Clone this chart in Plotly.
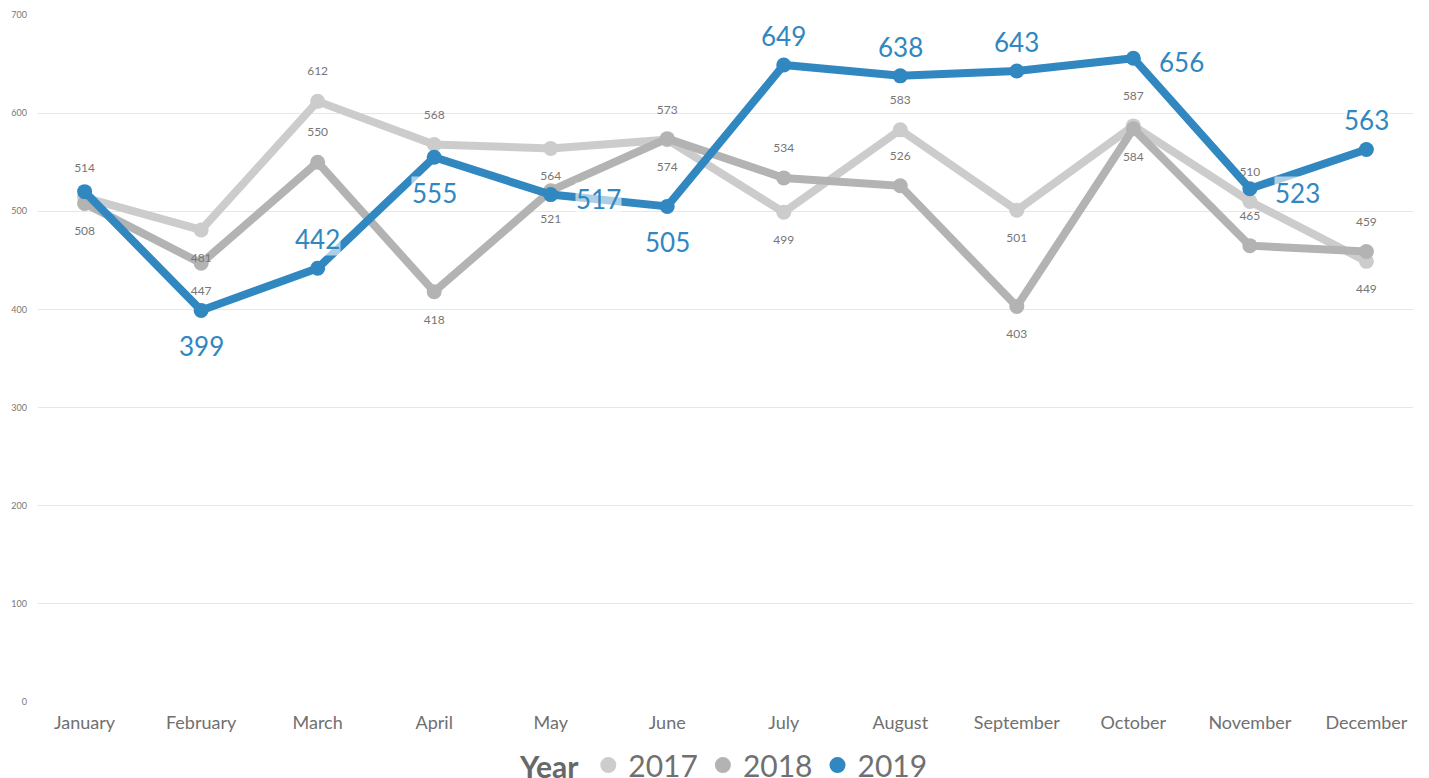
import plotly.graph_objects as go

months = ["January", "February", "March", "April", "May", "June",
          "July", "August", "September", "October", "November", "December"]
y2017 = [514, 481, 612, 568, 564, 573, 499, 583, 501, 587, 510, 449]
y2018 = [508, 447, 550, 418, 521, 574, 534, 526, 403, 584, 465, 459]
y2019 = [520, 399, 442, 555, 517, 505, 649, 638, 643, 656, 523, 563]

# label placement (relative to point)
pos2017 = ["top", "bottom", "top", "top", "bottom", "top", "bottom", "top", "bottom", "top", "top", "bottom"]
pos2018 = ["bottom", "bottom", "top", "bottom", "bottom", "bottom", "top", "top", "bottom", "bottom", "top", "top"]
pos2019 = ["none", "below", "above", "below", "right", "below", "above", "above", "above", "right", "right", "above"]

c2017 = "#cccccc"
c2018 = "#b3b3b3"
c2019 = "#3187bf"
txt_gray = "#767676"
FONT = "Lato"

fig = go.Figure()

gray = [("2017", y2017, c2017, pos2017), ("2018", y2018, c2018, pos2018)]
for name, ys, col, pos in gray:
    fig.add_trace(go.Scatter(
        x=months, y=ys, mode="lines+markers", name=name,
        line=dict(color=col, width=8), marker=dict(color=col, size=15),
        showlegend=False, legendgroup=name,
    ))
for name, ys, col, pos in gray:
    fig.add_trace(go.Scatter(
        x=months, y=ys, mode="markers+text", text=[str(v) for v in ys],
        textposition=[p + " center" for p in pos],
        textfont=dict(family=FONT, size=12, color=txt_gray),
        marker=dict(size=35, opacity=0),
        showlegend=False, hoverinfo="skip",
    ))

fig.add_trace(go.Scatter(
    x=months, y=y2019, mode="lines+markers", name="2019",
    line=dict(color=c2019, width=8), marker=dict(color=c2019, size=15),
    showlegend=False, legendgroup="2019",
))

shift = {"above": (0, 29), "below": (0, -36), "right": (48, -4)}
for m, v, p in zip(months, y2019, pos2019):
    if p == "none":
        continue
    dx, dy = shift[p]
    fig.add_annotation(
        x=m, y=v, text=str(v), showarrow=False, xshift=dx, yshift=dy,
        font=dict(family=FONT, size=26, color=c2019),
        bgcolor="rgba(255,255,255,0.6)", borderpad=0,
    )

# legend entries (markers only)
for name, col in [("2017", c2017), ("2018", c2018), ("2019", c2019)]:
    fig.add_trace(go.Scatter(
        x=[None], y=[None], mode="markers", name=name, legendgroup=name,
        marker=dict(color=col, size=18),
    ))

fig.update_layout(
    width=1421, height=770,
    margin=dict(l=30, r=16, t=7, b=76, autoexpand=False),
    paper_bgcolor="white", plot_bgcolor="white",
    font=dict(family=FONT, color="#707070"),
    showlegend=True,
    legend=dict(
        orientation="h", x=0.5, xanchor="center", y=-0.054, yanchor="top",
        title=dict(text="<b>Year</b>", font=dict(family=FONT, size=30, color="#686868")),
        font=dict(family=FONT, size=30, color="#707070"),
        itemwidth=30, tracegroupgap=0,
    ),
    xaxis=dict(
        range=[-0.4, 11.4], showgrid=False, zeroline=False, showline=False,
        tickfont=dict(family=FONT, size=18, color="#707070"), ticks="",
        ticklabelstandoff=8,
    ),
    yaxis=dict(
        range=[0, 700], dtick=100, showgrid=True, gridcolor="#e6e6e6", gridwidth=1,
        zeroline=False, showline=False,
        tickfont=dict(family=FONT, size=9, color="#777777"), ticks="",
        ticklabelstandoff=10,
    ),
)

fig.write_html("out.html")
